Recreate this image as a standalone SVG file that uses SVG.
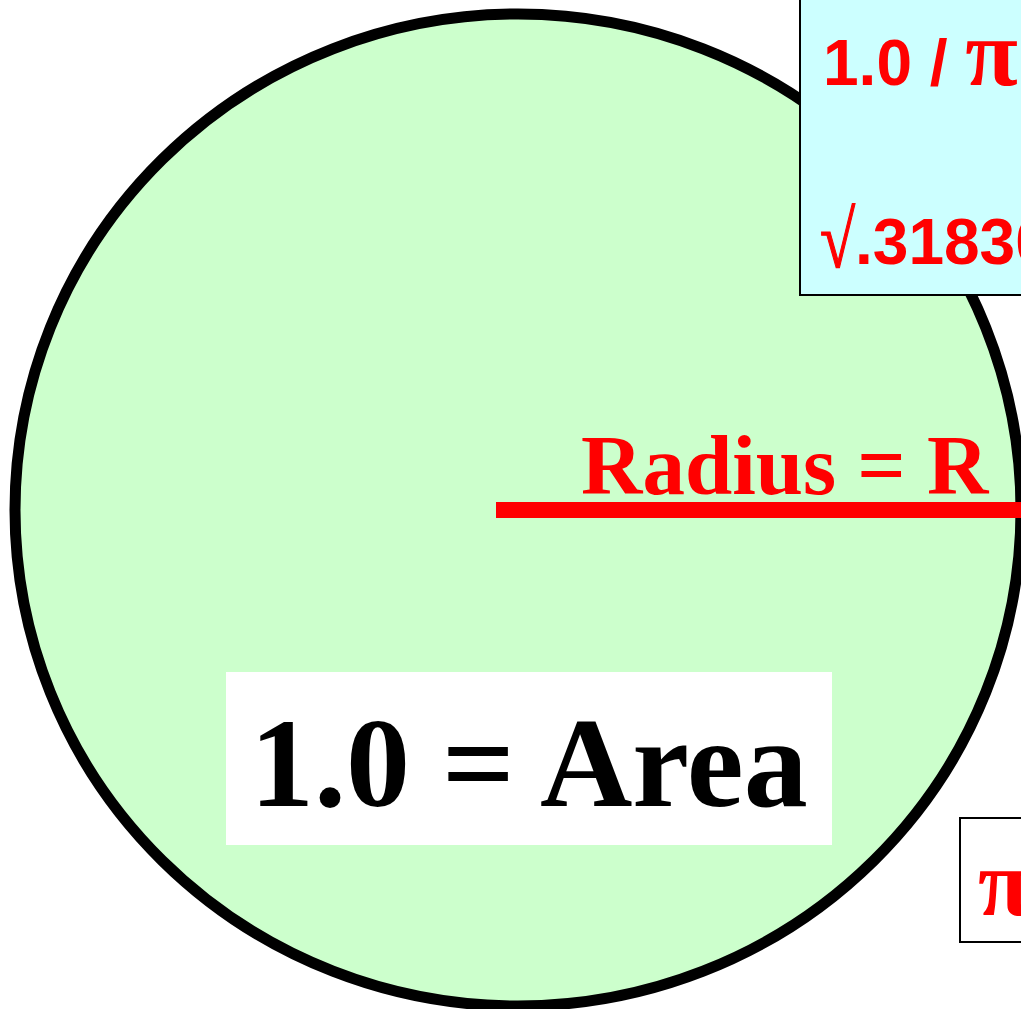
<svg xmlns="http://www.w3.org/2000/svg" width="1021" height="1009" viewBox="0 0 1021 1009">
<style>
.sans{font-family:"Liberation Sans",Arial,sans-serif;font-weight:bold;fill:#FF0000}
.serif{font-family:"Liberation Serif","Times New Roman",serif;font-weight:bold}
.pi{font-family:"Liberation Serif","Times New Roman",serif;font-weight:bold;fill:#FF0000}
</style>
<rect width="1021" height="1009" fill="#FFFFFF"/>
<g id="circle">
<ellipse cx="518" cy="510" rx="503" ry="496" fill="#CCFFCC" stroke="#000000" stroke-width="11"/>
</g>
<g id="connectors">
<line x1="496" y1="510" x2="1030" y2="510" stroke="#FF0000" stroke-width="16"/>
</g>
<g id="radius-label">
<text class="serif" x="581" y="494" font-size="85" fill="#FF0000">Radius = R</text>
</g>
<g id="area-label">
<rect x="226" y="672" width="606" height="173" fill="#FFFFFF"/>
<text class="serif" x="250" y="806" font-size="128" fill="#000000">1.0 = Area</text>
</g>
<g id="formula-box">
<rect x="800" y="-2" width="240" height="297" fill="#CCFFFF" stroke="#000000" stroke-width="2"/>
<text class="sans" x="823" y="85" font-size="64">1.0 / <tspan class="pi" font-size="96">π</tspan></text>
<text transform="translate(820,267) scale(1,1.25)" font-family="Liberation Serif, serif" font-size="64" fill="#FF0000" stroke="#FF0000" stroke-width="1">√</text>
<text class="sans" x="855" y="264" font-size="64">.31830</text>
</g>
<g id="pi-box">
<rect x="960" y="818" width="80" height="124" fill="#FFFFFF" stroke="#000000" stroke-width="2"/>
<text class="pi" x="978" y="915" font-size="96">π</text>
</g>
</svg>
